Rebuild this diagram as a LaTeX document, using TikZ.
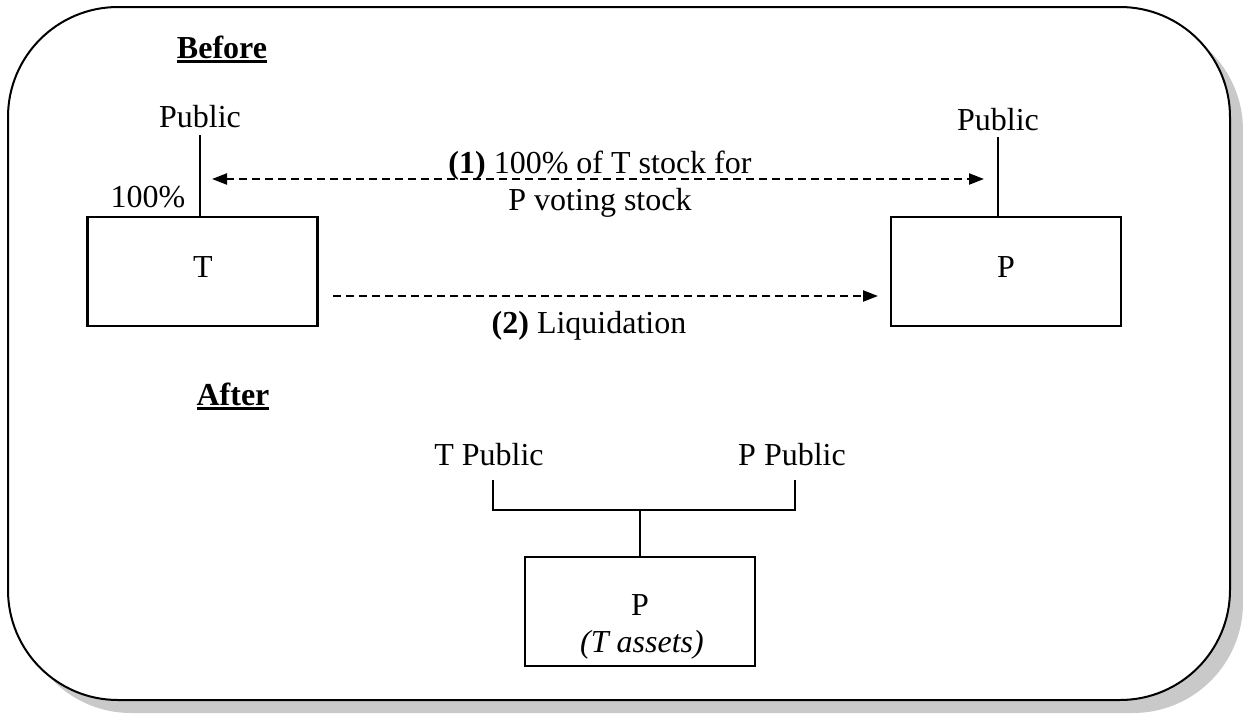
\documentclass[tikz,border=0pt]{standalone}
\usepackage{fontspec}
\setmainfont{Liberation Serif}
\usetikzlibrary{arrows.meta}
\newcommand\myul[1]{\setbox0\hbox{#1}\leavevmode\rlap{\rule[-5pt]{\wd0}{3pt}}\box0}
\begin{document}
\begin{tikzpicture}[x=1pt,y=-1pt,
  lbl/.style={inner sep=0pt,anchor=base,font=\fontsize{32}{38}\selectfont},
  box/.style={draw,line width=2.5pt,minimum width=230pt,minimum height=109pt,inner sep=0pt},
  conn/.style={line width=2.5pt},
  dsh/.style={line width=2.2pt,dash pattern=on 8pt off 5pt},
  tipB/.style={{Triangle[length=15pt,width=11pt]}-{Triangle[length=15pt,width=11pt]}},
  tipR/.style={-{Triangle[length=15pt,width=11pt]}}]
\useasboundingbox (0,0) rectangle (1243,713);
% frame with shadow
\fill[gray!42,rounded corners=110pt] (21,20) rectangle (1243,713);
\draw[line width=2pt,fill=white,rounded corners=110pt] (8,7) rectangle (1230,700);

% Before
\node[lbl] (before) at (222,58) {\myul{\textbf{Before}}};
\node[lbl] (tpub) at (200,127) {Public};
\node[lbl] (ppub) at (998,130) {Public};
\node[lbl] (pct) at (148,207) {100\%};
\node[box] (tbox) at (202.5,271.5) {};
\node[lbl] (tlab) at (203,277) {T};
\node[box] (pbox) at (1006,271.5) {};
\node[lbl] (plab) at (1006,277) {P};

\coordinate (tl) at (200,135);
\coordinate (pl) at (998,137);
\draw[conn] (tl) -- (tl |- tbox.north);
\draw[conn] (pl) -- (pl |- pbox.north);

\coordinate (a1l) at (212,179);
\coordinate (a1r) at (984,179);
\draw[dsh,tipB] (a1l) -- (a1r);
\node[lbl] (l1a) at (600,173) {\textbf{(1)} 100\% of T stock for};
\node[lbl] (l1b) at (600,210) {P voting stock};

\coordinate (a2l) at (333,296);
\coordinate (a2r) at (878,296);
\draw[dsh,tipR] (a2l) -- (a2r);
\node[lbl] (l2) at (589,333) {\textbf{(2)} Liquidation};

% After
\node[lbl] (after) at (233,405) {\myul{\textbf{After}}};
\node[lbl] (tpub2) at (489,465) {T Public};
\node[lbl] (ppub2) at (792,465) {P Public};
\node[box] (pbox2) at (640,611.5) {};
\node[lbl] (p2) at (640,615) {P};
\node[lbl] (p2b) at (642,652) {\itshape (T assets)};

\coordinate (bl) at (493,480);
\coordinate (br) at (795,480);
\coordinate (bm) at (640,510);
\draw[conn] (bl) -- (bl |- bm) -- (br |- bm) -- (br);
\draw[conn] (bm) -- (pbox2.north);
\end{tikzpicture}
\end{document}
